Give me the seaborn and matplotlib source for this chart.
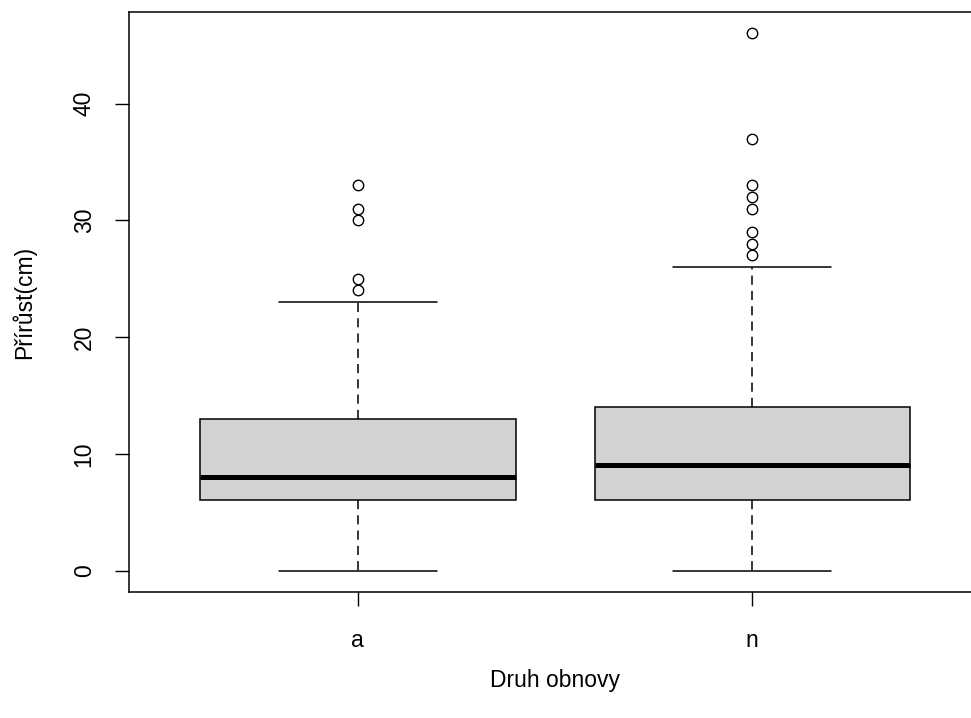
import numpy as np
import pandas as pd
import matplotlib
matplotlib.use("Agg")
import matplotlib.pyplot as plt
import seaborn as sns

# increments (cm) per renewal type
prirust_a = [0, 2, 3, 4, 5, 6, 6, 6, 7, 7, 8, 8, 8, 9, 10, 11, 12, 13, 13, 23,
             24, 25, 30, 31, 33]
prirust_n = [0, 1, 2, 3, 4, 5, 5, 6, 6, 6, 7, 7, 7, 8, 8, 8, 9, 9, 9, 10, 10,
             11, 11, 12, 12, 13, 14, 14, 26,
             27, 28, 29, 31, 32, 33, 37, 46]
druhy = ["a", "n"]
y_ticks = [0, 10, 20, 30, 40]

df = pd.DataFrame({
    "Druh obnovy": [druhy[0]] * len(prirust_a) + [druhy[1]] * len(prirust_n),
    "Přírůst(cm)": prirust_a + prirust_n,
})

sns.set_style("ticks")
plt.rcParams["font.family"] = ["Liberation Sans", "DejaVu Sans"]
plt.rcParams["text.color"] = "black"
plt.rcParams["axes.labelcolor"] = "black"

fig = plt.figure(figsize=(9.71, 7.18), dpi=100)
ax = fig.add_axes([0.1329, 0.1755, 0.8775, 0.8078])

sns.boxplot(data=df, x="Druh obnovy", y="Přírůst(cm)", order=druhy, ax=ax,
            color="#D3D3D3", saturation=1, width=0.8, whis=1.5,
            linecolor="black", linewidth=1.1,
            medianprops={"linewidth": 3.6, "color": "black"},
            whiskerprops={"linestyle": (0, (6, 4))},
            flierprops={"marker": "o", "markerfacecolor": "none",
                        "markeredgecolor": "black", "markersize": 7.5,
                        "markeredgewidth": 1.0})

ax.set_xlim(-0.58, 1.58)
ax.set_ylim(-1.84, 47.84)
ax.set_yticks(y_ticks)
ax.set_yticklabels([str(t) for t in y_ticks], rotation=90, va="center")
for s in ax.spines.values():
    s.set_visible(True)
    s.set_color("black")
    s.set_linewidth(1.1)
ax.tick_params(axis="both", length=10, width=1.0, colors="black",
               labelsize=16.5, pad=14)
ax.tick_params(axis="x", pad=17)
ax.set_xlabel("Druh obnovy", fontsize=16.5, labelpad=12, color="black")
ax.set_ylabel("Přírůst(cm)", fontsize=16.5, labelpad=26, color="black")

fig.savefig("out.png", dpi=100)
